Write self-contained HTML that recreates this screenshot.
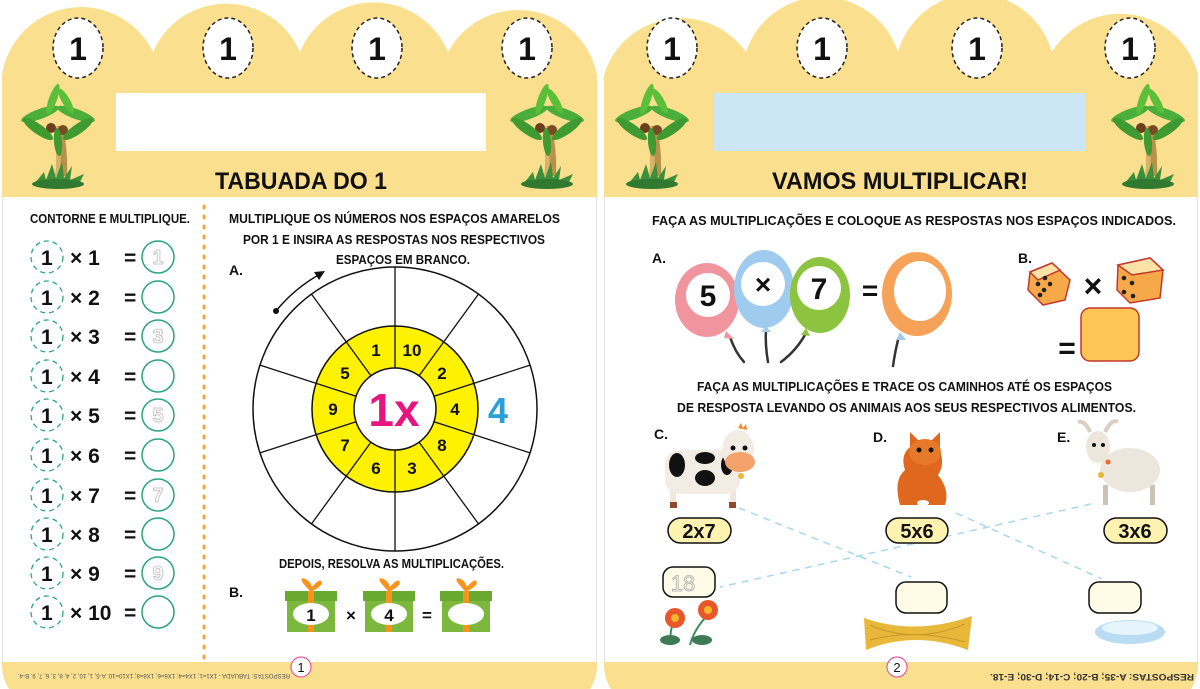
<!DOCTYPE html>
<html><head><meta charset="utf-8"><style>
html,body{margin:0;padding:0;background:#fff;}
svg{display:block;}
text{font-family:"Liberation Sans",sans-serif;font-weight:bold;}
</style></head><body>
<svg width="1200" height="689" viewBox="0 0 1200 689" xmlns="http://www.w3.org/2000/svg">
<defs>
<g id="palm">
  <path d="M-5,-8 Q0,20 -3,42 L9,42 Q10,18 5,-8 Z" fill="#d8b36a"/>
  <path d="M0,-8 Q4,18 2,42 L9,42 Q10,18 5,-8 Z" fill="#b8924a"/>
  <circle cx="-7" cy="-6" r="5" fill="#6b3e1e"/><circle cx="5" cy="-4" r="5" fill="#7a4a22"/>
  <ellipse cx="-18" cy="-20" rx="20" ry="5" fill="#4cae3a" transform="rotate(-20 -18 -20)"/>
  <ellipse cx="18" cy="-20" rx="20" ry="5" fill="#4cae3a" transform="rotate(20 18 -20)"/>
  <ellipse cx="-20" cy="-5" rx="18" ry="5" fill="#3e9a31" transform="rotate(35 -20 -5)"/>
  <ellipse cx="20" cy="-5" rx="18" ry="5" fill="#3e9a31" transform="rotate(-35 20 -5)"/>
  <ellipse cx="-5" cy="-35" rx="16" ry="4" fill="#5cbf3a" transform="rotate(-70 -5 -35)"/>
  <ellipse cx="8" cy="-33" rx="14" ry="4" fill="#5cbf3a" transform="rotate(60 8 -33)"/>
  <ellipse cx="0" cy="8" rx="14" ry="4" fill="#3e9a31" transform="rotate(85 0 8)"/>
  <path d="M-24,50 L-14,38 L-12,46 L-6,30 L-2,44 L4,28 L6,44 L14,32 L12,46 L26,40 L20,52 Z" fill="#3d8f3a"/>
  <ellipse cx="0" cy="50" rx="26" ry="5" fill="#2f7a30"/>
</g>
</defs>

<!-- LEFT PAGE -->
<rect x="2" y="150" width="595" height="560" rx="45" fill="#fae08e"/>
<path d="M2,197 L2,75 A80,80 0 0 1 153,52 A80,80 0 0 1 300,52 A80,80 0 0 1 448,52 A80,80 0 0 1 597,75 L597,197 Z" fill="#fae08e"/>
<rect x="2" y="197" width="595" height="465" fill="#fff"/>
<line x1="2.5" y1="197" x2="2.5" y2="662" stroke="#e2e2e2"/>
<line x1="596.5" y1="197" x2="596.5" y2="662" stroke="#e2e2e2"/>
<g fill="#fff" stroke="#222" stroke-width="1.5" stroke-dasharray="4 3">
<ellipse cx="78" cy="48" rx="25" ry="30"/><ellipse cx="228" cy="48" rx="25" ry="30"/><ellipse cx="377" cy="48" rx="25" ry="30"/><ellipse cx="527" cy="48" rx="25" ry="30"/>
</g>
<g font-size="32" text-anchor="middle" fill="#111">
<text x="78" y="60">1</text><text x="228" y="60">1</text><text x="377" y="60">1</text><text x="527" y="60">1</text>
</g>
<rect x="116" y="93" width="370" height="58" fill="#fff"/>
<use href="#palm" x="58" y="134"/><use href="#palm" x="547" y="134"/>
<text x="215" y="189" font-size="24" textLength="172" lengthAdjust="spacingAndGlyphs" fill="#111">TABUADA DO 1</text>

<text x="30" y="223" font-size="13" textLength="160" lengthAdjust="spacingAndGlyphs" fill="#111">CONTORNE E MULTIPLIQUE.</text>
<line x1="204" y1="206" x2="204" y2="660" stroke="#f4a640" stroke-width="3" stroke-dasharray="2 8" stroke-linecap="round"/>

<g fill="none" stroke="#2aa57a" stroke-width="1.3" stroke-dasharray="5 4">
<circle cx="47" cy="257" r="16"/><circle cx="47" cy="297" r="16"/><circle cx="47" cy="336" r="16"/><circle cx="47" cy="376" r="16"/><circle cx="47" cy="415" r="16"/><circle cx="47" cy="455" r="16"/><circle cx="47" cy="495" r="16"/><circle cx="47" cy="534" r="16"/><circle cx="47" cy="573" r="16"/><circle cx="47" cy="612" r="16"/>
</g>
<g fill="#fff" stroke="#2aa57a" stroke-width="1.5">
<circle cx="158" cy="257" r="16"/><circle cx="158" cy="297" r="16"/><circle cx="158" cy="336" r="16"/><circle cx="158" cy="376" r="16"/><circle cx="158" cy="415" r="16"/><circle cx="158" cy="455" r="16"/><circle cx="158" cy="495" r="16"/><circle cx="158" cy="534" r="16"/><circle cx="158" cy="573" r="16"/><circle cx="158" cy="612" r="16"/>
</g>
<g font-size="21" fill="#111">
<text x="41" y="265">1</text><text x="70" y="265">× 1</text><text x="124" y="265">=</text>
<text x="41" y="305">1</text><text x="70" y="305">× 2</text><text x="124" y="305">=</text>
<text x="41" y="344">1</text><text x="70" y="344">× 3</text><text x="124" y="344">=</text>
<text x="41" y="384">1</text><text x="70" y="384">× 4</text><text x="124" y="384">=</text>
<text x="41" y="423">1</text><text x="70" y="423">× 5</text><text x="124" y="423">=</text>
<text x="41" y="463">1</text><text x="70" y="463">× 6</text><text x="124" y="463">=</text>
<text x="41" y="503">1</text><text x="70" y="503">× 7</text><text x="124" y="503">=</text>
<text x="41" y="542">1</text><text x="70" y="542">× 8</text><text x="124" y="542">=</text>
<text x="41" y="581">1</text><text x="70" y="581">× 9</text><text x="124" y="581">=</text>
<text x="41" y="620">1</text><text x="70" y="620">× 10</text><text x="124" y="620">=</text>
</g>
<g font-size="20" fill="none" stroke="#bbb" stroke-width="0.8" text-anchor="middle" style="font-weight:normal">
<text x="158" y="264">1</text><text x="158" y="343">3</text><text x="158" y="422">5</text><text x="158" y="502">7</text><text x="158" y="580">9</text>
</g>

<g font-size="12.5" fill="#111">
<text x="229" y="223" textLength="331" lengthAdjust="spacingAndGlyphs">MULTIPLIQUE OS NÚMEROS NOS ESPAÇOS AMARELOS</text>
<text x="243" y="244" textLength="302" lengthAdjust="spacingAndGlyphs">POR 1 E INSIRA AS RESPOSTAS NOS RESPECTIVOS</text>
<text x="336" y="264" textLength="134" lengthAdjust="spacingAndGlyphs">ESPAÇOS EM BRANCO.</text>
</g>
<text x="229" y="275" font-size="14" fill="#111">A.</text>
<path d="M276,311 A154,154 0 0 1 322,273" fill="none" stroke="#111" stroke-width="1.5"/>
<circle cx="276" cy="311" r="3" fill="#111"/>
<path d="M325,271 L314,272 L319,280 Z" fill="#111"/>

<circle cx="395" cy="409" r="142" fill="#fff" stroke="#111" stroke-width="1.5"/>
<circle cx="395" cy="409" r="83" fill="#fff200" stroke="#111" stroke-width="1.5"/>
<circle cx="395" cy="409" r="41" fill="#fff" stroke="#111" stroke-width="1.5"/>
<g stroke="#111" stroke-width="1.3">
<line x1="395" y1="368" x2="395" y2="267"/>
<line x1="419.1" y1="375.8" x2="478.5" y2="294.1"/>
<line x1="434" y1="396.3" x2="530" y2="365.1"/>
<line x1="434" y1="421.7" x2="530" y2="452.9"/>
<line x1="419.1" y1="442.2" x2="478.5" y2="523.9"/>
<line x1="395" y1="450" x2="395" y2="551"/>
<line x1="370.9" y1="442.2" x2="311.5" y2="523.9"/>
<line x1="356" y1="421.7" x2="260" y2="452.9"/>
<line x1="356" y1="396.3" x2="260" y2="365.1"/>
<line x1="370.9" y1="375.8" x2="311.5" y2="294.1"/>
</g>
<g font-size="17" fill="#111" text-anchor="middle">
<text x="412" y="356">10</text><text x="442" y="379">2</text><text x="455" y="415">4</text><text x="442" y="451">8</text><text x="412" y="474">3</text>
<text x="376" y="474">6</text><text x="345" y="451">7</text><text x="333" y="415">9</text><text x="345" y="379">5</text><text x="376" y="356">1</text>
</g>
<text x="394" y="426" font-size="46" text-anchor="middle" fill="#e6157f">1x</text>
<text x="498" y="423" font-size="36" text-anchor="middle" fill="#2b9fd8">4</text>

<text x="279" y="568" font-size="12.5" textLength="225" lengthAdjust="spacingAndGlyphs" fill="#111">DEPOIS, RESOLVA AS MULTIPLICAÇÕES.</text>
<text x="229" y="597" font-size="14" fill="#111">B.</text>
<g>
 <g id="gift">
  <rect x="287" y="600" width="48" height="32" fill="#7cb83d"/>
  <rect x="285" y="591" width="52" height="10" fill="#6aa92f"/>
  <rect x="308" y="591" width="6" height="41" fill="#f7941d"/>
  <path d="M311,590 Q300,578 304,580 Q310,582 311,590 Q322,578 320,584 Q316,588 311,590" fill="none" stroke="#f7941d" stroke-width="3"/>
  <ellipse cx="311" cy="614" rx="18" ry="11" fill="#fff"/>
 </g>
 <use href="#gift" x="78"/><use href="#gift" x="155"/>
</g>
<text x="311" y="621" font-size="17" text-anchor="middle" fill="#111">1</text>
<text x="389" y="621" font-size="17" text-anchor="middle" fill="#111">4</text>
<text x="351" y="621" font-size="17" text-anchor="middle" fill="#111">×</text>
<text x="427" y="621" font-size="17" text-anchor="middle" fill="#111">=</text>

<text x="18" y="680" font-size="6" fill="#555" transform="rotate(180 154 677)" textLength="272" lengthAdjust="spacingAndGlyphs" style="font-weight:normal">RESPOSTAS: TABUADA - 1X1=1; 1X4=4; 1X6=6; 1X8=8; 1X10=10. A-5, 1, 10, 2, 4, 8, 3, 6, 7, 9. B-4.</text>
<circle cx="301" cy="667" r="10" fill="#fff" stroke="#e05aa0" stroke-width="1.2"/>
<text x="301" y="672" font-size="13" text-anchor="middle" fill="#111" style="font-weight:normal">1</text>

<!-- RIGHT PAGE -->
<rect x="604" y="150" width="594" height="560" rx="45" fill="#fae08e"/>
<path d="M604,197 L604,75 A80,80 0 0 1 746,52 A80,80 0 0 1 898,52 A80,80 0 0 1 1052,52 A80,80 0 0 1 1198,75 L1198,197 Z" fill="#fae08e"/>
<rect x="604" y="197" width="594" height="465" fill="#fff"/>
<line x1="604.5" y1="197" x2="604.5" y2="662" stroke="#e2e2e2"/>
<line x1="1197.5" y1="197" x2="1197.5" y2="662" stroke="#e2e2e2"/>
<g fill="#fff" stroke="#222" stroke-width="1.5" stroke-dasharray="4 3">
<ellipse cx="672" cy="48" rx="25" ry="30"/><ellipse cx="822" cy="48" rx="25" ry="30"/><ellipse cx="977" cy="48" rx="25" ry="30"/><ellipse cx="1130" cy="48" rx="25" ry="30"/>
</g>
<g font-size="32" text-anchor="middle" fill="#111">
<text x="672" y="60">1</text><text x="822" y="60">1</text><text x="977" y="60">1</text><text x="1130" y="60">1</text>
</g>
<rect x="714" y="93" width="371" height="58" fill="#cde6f5"/>
<use href="#palm" x="652" y="134"/><use href="#palm" x="1148" y="134"/>
<text x="772" y="189" font-size="24" textLength="256" lengthAdjust="spacingAndGlyphs" fill="#111">VAMOS MULTIPLICAR!</text>

<text x="652" y="225" font-size="12.5" textLength="524" lengthAdjust="spacingAndGlyphs" fill="#111">FAÇA AS MULTIPLICAÇÕES E COLOQUE AS RESPOSTAS NOS ESPAÇOS INDICADOS.</text>
<text x="652" y="263" font-size="14" fill="#111">A.</text>
<text x="1018" y="263" font-size="14" fill="#111">B.</text>

<!-- balloons -->
<g fill="none" stroke="#333" stroke-width="2.5" stroke-linecap="round">
<path d="M730,337 Q735,352 744,362"/><path d="M766,329 Q765,345 768,362"/><path d="M806,333 Q797,350 781,362"/><path d="M898,340 Q895,352 893,366"/>
</g>
<ellipse cx="707" cy="300" rx="32" ry="37" fill="#f0959d"/>
<path d="M726,331 L734,339 L724,338 Z" fill="#f0959d"/>
<ellipse cx="764" cy="289" rx="30" ry="39" fill="#9ecbee"/>
<path d="M766,326 L771,332 L761,332 Z" fill="#9ecbee"/>
<ellipse cx="820" cy="295" rx="30" ry="38" fill="#8cc43f"/>
<path d="M806,328 L810,336 L801,335 Z" fill="#8cc43f"/>
<circle cx="708" cy="295" r="22" fill="#fff"/><circle cx="763" cy="284" r="22" fill="#fff"/><circle cx="819" cy="288" r="22" fill="#fff"/>
<text x="708" y="306" font-size="30" text-anchor="middle" fill="#111">5</text>
<text x="763" y="294" font-size="28" text-anchor="middle" fill="#111">×</text>
<text x="819" y="299" font-size="30" text-anchor="middle" fill="#111">7</text>
<text x="870" y="300" font-size="28" text-anchor="middle" fill="#111">=</text>
<ellipse cx="917" cy="294" rx="35" ry="42" fill="#f6a258"/>
<path d="M900,332 L906,340 L896,340 Z" fill="#9ecbee"/>
<ellipse cx="920" cy="291" rx="26" ry="30" fill="#fff"/>

<!-- dice -->
<g stroke="#c0392b" stroke-width="1.5">
<path d="M1030,272 L1052,263 L1070,280 L1065,300 L1043,305 L1028,290 Z" fill="#f7a94a"/>
<path d="M1030,272 L1052,263 L1060,270 L1038,280 Z" fill="#fde2a8"/>
<path d="M1118,265 L1150,258 L1163,270 L1160,298 L1130,303 L1117,290 Z" fill="#f7a94a"/>
<path d="M1118,265 L1150,258 L1163,270 L1132,275 Z" fill="#fde2a8"/>
<rect x="1081" y="308" width="58" height="53" rx="9" fill="#fcc556"/>
</g>
<g fill="#222"><circle cx="1038" cy="284" r="2.3"/><circle cx="1045" cy="278" r="2.3"/><circle cx="1044" cy="290" r="2.3"/><circle cx="1050" cy="284" r="2.3"/><circle cx="1040" cy="295" r="2.3"/>
<circle cx="1124" cy="278" r="2.3"/><circle cx="1132" cy="283" r="2.3"/><circle cx="1124" cy="292" r="2.3"/><circle cx="1133" cy="296" r="2.3"/></g>
<text x="1093" y="297" font-size="32" text-anchor="middle" fill="#111">×</text>
<text x="1067" y="358" font-size="30" text-anchor="middle" fill="#111">=</text>

<g font-size="12.5" fill="#111">
<text x="697" y="391" textLength="415" lengthAdjust="spacingAndGlyphs">FAÇA AS MULTIPLICAÇÕES E TRACE OS CAMINHOS ATÉ OS ESPAÇOS</text>
<text x="677" y="412" textLength="459" lengthAdjust="spacingAndGlyphs">DE RESPOSTA LEVANDO OS ANIMAIS AOS SEUS RESPECTIVOS ALIMENTOS.</text>
</g>
<g font-size="14" fill="#111"><text x="654" y="439">C.</text><text x="873" y="442">D.</text><text x="1057" y="442">E.</text></g>

<!-- cow -->
<rect x="730" y="490" width="6" height="17" fill="#efe6dc"/><rect x="670" y="490" width="6" height="17" fill="#efe6dc"/>
<rect x="670" y="502" width="7" height="6" fill="#8b4a2a"/><rect x="729" y="502" width="7" height="6" fill="#8b4a2a"/>
<rect x="665" y="450" width="75" height="44" rx="14" fill="#f3ece4"/>
<ellipse cx="677" cy="465" rx="8" ry="12" fill="#111"/><ellipse cx="705" cy="458" rx="10" ry="6" fill="#111"/><ellipse cx="705" cy="478" rx="10" ry="8" fill="#111"/><ellipse cx="727" cy="465" rx="6" ry="10" fill="#111"/>
<ellipse cx="738" cy="450" rx="16" ry="20" fill="#f3ece4"/>
<ellipse cx="740" cy="462" rx="15" ry="10" fill="#f2a26a"/>
<circle cx="733" cy="448" r="2.5" fill="#111"/><circle cx="745" cy="448" r="2.5" fill="#111"/>
<path d="M738,428 l3,-5 l2,5 l3,-4 l1,6 Z" fill="#f08a2a"/>
<circle cx="741" cy="476" r="3" fill="#e8b63a"/>
<!-- cat -->
<path d="M900,505 Q893,480 905,470 Q900,455 910,447 L910,432 L918,440 L932,440 L940,432 L940,450 Q945,465 938,475 Q950,490 945,505 Z" fill="#e0681e"/>
<ellipse cx="925" cy="452" rx="16" ry="13" fill="#e67a2a"/>
<circle cx="919" cy="450" r="2.5" fill="#111"/><circle cx="931" cy="450" r="2.5" fill="#111"/>
<ellipse cx="923" cy="503" rx="6" ry="3" fill="#fff"/>
<!-- goat -->
<rect x="1103" y="485" width="5" height="20" fill="#ccc2b5"/><rect x="1150" y="485" width="5" height="20" fill="#ccc2b5"/>
<ellipse cx="1130" cy="470" rx="30" ry="22" fill="#ece6dc"/>
<ellipse cx="1098" cy="447" rx="12" ry="16" fill="#ece6dc"/>
<path d="M1090,432 Q1085,420 1078,422 M1105,432 Q1112,418 1118,422" stroke="#d8cfc2" stroke-width="4" fill="none"/>
<circle cx="1094" cy="445" r="2" fill="#111"/><circle cx="1103" cy="445" r="2" fill="#111"/>
<circle cx="1108" cy="462" r="2.5" fill="#f26a2a"/>
<circle cx="1101" cy="475" r="3" fill="#e8b63a"/>

<!-- dashed paths -->
<g stroke="#a6d8ee" stroke-width="1.5" stroke-dasharray="7 6" fill="none">
<line x1="739" y1="508" x2="911" y2="577"/>
<line x1="956" y1="513" x2="1102" y2="579"/>
<line x1="1091" y1="504" x2="720" y2="587"/>
</g>

<g fill="#fdf2b0" stroke="#111" stroke-width="1.5">
<rect x="668" y="518" width="63" height="25" rx="12.5"/>
<rect x="886" y="518" width="62" height="25" rx="12.5"/>
<rect x="1104" y="518" width="63" height="25" rx="12.5"/>
</g>
<g font-size="20" text-anchor="middle" fill="#111">
<text x="699" y="538">2x7</text><text x="917" y="538">5x6</text><text x="1135" y="538">3x6</text>
</g>
<g fill="#fffbe6" stroke="#111" stroke-width="1.5">
<rect x="663" y="567" width="52" height="30" rx="10"/>
<rect x="896" y="582" width="51" height="31" rx="10"/>
<rect x="1089" y="582" width="52" height="31" rx="10"/>
</g>
<text x="683" y="591" font-size="22" text-anchor="middle" fill="none" stroke="#aaa" stroke-width="0.8" style="font-weight:normal">18</text>

<!-- flowers -->
<path d="M672,645 Q668,632 675,620 M690,645 Q694,630 705,618" stroke="#3d8a5a" stroke-width="2" fill="none"/>
<ellipse cx="670" cy="640" rx="10" ry="5" fill="#3d7a55"/><ellipse cx="702" cy="640" rx="10" ry="5" fill="#3d7a55"/>
<circle cx="675" cy="618" r="10" fill="#e8562a"/><circle cx="675" cy="618" r="4" fill="#f5b82a"/>
<circle cx="708" cy="610" r="10" fill="#e8562a"/><circle cx="708" cy="610" r="4" fill="#f5b82a"/>
<!-- hay -->
<path d="M864,618 Q915,636 972,616 L968,650 Q915,630 866,650 Z" fill="#e8b83a"/>
<path d="M870,625 Q915,645 965,624 M870,640 Q915,628 965,642" stroke="#c9962a" fill="none"/>
<!-- bowl -->
<ellipse cx="1130" cy="632" rx="35" ry="12" fill="#b9dcf2"/>
<ellipse cx="1130" cy="628" rx="28" ry="7" fill="#e6f4fc"/>

<circle cx="897" cy="667" r="10" fill="#fff" stroke="#e05aa0" stroke-width="1.2"/>
<text x="897" y="672" font-size="13" text-anchor="middle" fill="#111" style="font-weight:normal">2</text>
<text x="990" y="680" font-size="9" fill="#333" transform="rotate(180 1092 677)" textLength="204" lengthAdjust="spacingAndGlyphs">RESPOSTAS: A-35; B-20; C-14; D-30; E-18.</text>
</svg>
</body></html>
